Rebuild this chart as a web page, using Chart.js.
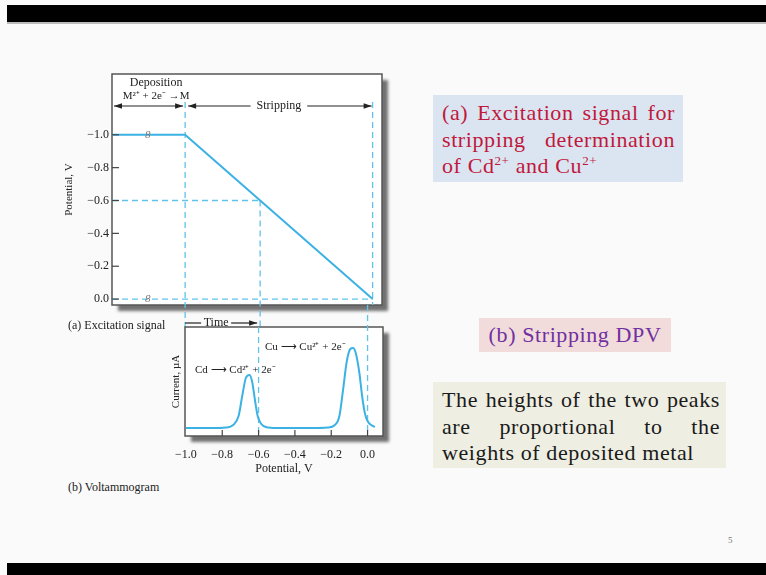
<!DOCTYPE html>
<html>
<head>
<meta charset="utf-8">
<script src="https://cdn.jsdelivr.net/npm/chart.js@4.4.1/dist/chart.umd.min.js"></script>
<style>
html, body { margin: 0; padding: 0; }
body { width: 766px; height: 575px; background: #fafafa; position: relative; overflow: hidden;
       font-family: "Liberation Serif", "Times New Roman", serif; }
.bar { position: absolute; left: 7px; right: 0; background: #000; }
canvas { position: absolute; }
.cap { position: absolute; font-size: 12px; line-height: 14px; color: #222; white-space: nowrap; }
.box { position: absolute; font-size: 22px; letter-spacing: 0.6px; line-height: 26.5px; box-sizing: border-box; }
.box div { white-space: nowrap; }
.just { text-align: justify; text-align-last: justify; }
sup { font-size: 13px; line-height: 0; vertical-align: 8px; }
</style>
</head>
<body>
<div class="bar" style="top:5px;height:17px;"></div>
<div style="position:absolute;left:7px;right:0;top:22px;height:2px;background:#bbb;"></div>
<div class="bar" style="top:563px;height:12px;"></div>

<canvas id="excitation" width="340" height="275" style="left:60px;top:60px;"></canvas>
<canvas id="voltammogram" width="240" height="178" style="left:160px;top:305px;"></canvas>

<div class="cap" style="left:68px;top:318px;">(a) Excitation signal</div>
<div class="cap" style="left:68px;top:480px;">(b) Voltammogram</div>

<div class="box" style="left:433px;top:95px;width:250px;height:87px;padding:5px 8px 0 9px;background:#dbe5f1;color:#c0183c;">
  <div class="just">(a) Excitation signal for</div>
  <div class="just">stripping determination</div>
  <div>of Cd<sup>2+</sup> and Cu<sup>2+</sup></div>
</div>
<div class="box" style="left:479px;top:318px;width:192px;height:34px;line-height:34px;text-align:center;background:#f2dcdb;color:#7030a0;">(b) Stripping DPV</div>
<div class="box" style="left:433px;top:382px;width:293px;height:86px;padding:5px 6px 0 9px;background:#eeeee2;color:#1a1a1a;">
  <div class="just">The heights of the two peaks</div>
  <div class="just">are proportional to the</div>
  <div>weights of deposited metal</div>
</div>
<div class="cap" style="left:728px;top:533px;font-size:9px;color:#777;">5</div>

<script>
// (a) excitation signal: potential against time
const rampTime = [0, 3.9, 13.9];
const rampPotential = [-1.0, -1.0, 0.0];
const potentialTicks = [-1.0, -0.8, -0.6, -0.4, -0.2, 0.0];
const guidePotential = -0.6;
const breakTime = 1.9;

// (b) voltammogram: current against potential
const sweepPotential = [-1.0, -0.85, -0.78, -0.74, -0.71, -0.69, -0.67, -0.65, -0.635, -0.62, -0.605, -0.585, -0.56, -0.5,
                        -0.3, -0.22, -0.18, -0.155, -0.135, -0.115, -0.095, -0.08, -0.065, -0.045, -0.03, -0.015, 0.0, 0.02, 0.04];
const current = [0, 0, 0.5, 3, 12, 32, 50, 53, 46, 28, 12, 4, 1, 0,
                 0, 0.5, 3, 12, 38, 66, 79, 80, 75, 55, 32, 15, 7, 3, 1];
const sweepTicks = [-1.0, -0.8, -0.6, -0.4, -0.2, 0.0];

const blue = '#3cb2e4';
const dashBlue = '#62c2ea';
const ink = '#222';
const serif = '"Liberation Serif", "Times New Roman", serif';

function fmt(v) {
    return (v < -0.001 ? '\u2212' : '') + Math.abs(v).toFixed(1);
}

function frame(chart) {
    const { ctx, chartArea: a } = chart;
    ctx.save();
    ctx.shadowColor = 'rgba(0,0,0,0.55)';
    ctx.shadowBlur = 3;
    ctx.shadowOffsetX = 6;
    ctx.shadowOffsetY = 6;
    ctx.fillStyle = '#fff';
    ctx.fillRect(a.left, a.top, a.width, a.height);
    ctx.restore();
    ctx.save();
    ctx.strokeStyle = '#555';
    ctx.lineWidth = 1.5;
    ctx.strokeRect(a.left, a.top, a.width, a.height);
    ctx.restore();
}

function dashed(ctx, x1, y1, x2, y2) {
    ctx.save();
    ctx.strokeStyle = dashBlue;
    ctx.lineWidth = 1.3;
    ctx.setLineDash([6, 4]);
    ctx.beginPath();
    ctx.moveTo(x1, y1);
    ctx.lineTo(x2, y2);
    ctx.stroke();
    ctx.restore();
}

function line(ctx, x1, y1, x2, y2) {
    ctx.beginPath();
    ctx.moveTo(x1, y1);
    ctx.lineTo(x2, y2);
    ctx.stroke();
}

// arrow head with its tip at x, pointing right (dir 1) or left (dir -1)
function head(ctx, x, y, dir) {
    ctx.beginPath();
    ctx.moveTo(x, y);
    ctx.lineTo(x - dir * 8, y - 2.8);
    ctx.lineTo(x - dir * 8, y + 2.8);
    ctx.closePath();
    ctx.fill();
}

const excitationDecor = {
    id: 'excitationDecor',
    beforeDraw(chart) { frame(chart); },
    beforeDatasetsDraw(chart) {
        const { ctx, chartArea: a, scales: { x, y } } = chart;
        const xs = x.getPixelForValue(rampTime[1]);
        const xe = x.getPixelForValue(rampTime[2]);
        const top = a.top + 28;
        dashed(ctx, xs, top, xs, a.bottom + 22);
        dashed(ctx, xe, top, xe, a.bottom);
        const tg = rampTime[1] + (rampTime[2] - rampTime[1]) *
            (guidePotential - rampPotential[1]) / (rampPotential[2] - rampPotential[1]);
        const xg = x.getPixelForValue(tg), yg = y.getPixelForValue(guidePotential);
        dashed(ctx, a.left, yg, xg, yg);
        dashed(ctx, xg, yg, xg, chart.height);
        const y0 = y.getPixelForValue(0);
        dashed(ctx, a.left, y0, xe, y0);
    },
    afterDraw(chart) {
        const { ctx, chartArea: a, scales: { x, y } } = chart;
        ctx.save();
        ctx.strokeStyle = '#444';
        ctx.lineWidth = 1.2;
        potentialTicks.forEach(v => {
            const py = y.getPixelForValue(v);
            line(ctx, a.left, py, a.left + 7, py);
        });
        // axis break marks
        ctx.font = 'italic 11px ' + serif;
        ctx.fillStyle = '#777';
        ctx.textAlign = 'center';
        ctx.textBaseline = 'middle';
        const xb = x.getPixelForValue(breakTime);
        ctx.fillText('8', xb, y.getPixelForValue(rampPotential[0]));
        ctx.fillText('8', xb, y.getPixelForValue(0));

        const xs = x.getPixelForValue(rampTime[1]);
        const xe = x.getPixelForValue(rampTime[2]);
        ctx.fillStyle = ink;
        ctx.strokeStyle = ink;
        ctx.font = '12px ' + serif;
        const mid = xs - 29;
        ctx.fillText('Deposition', mid, a.top + 9);
        ctx.font = '11px ' + serif;
        ctx.fillText('M\u00b2\u207a + 2e\u207b \u2192M', mid, a.top + 22);
        ctx.font = '12px ' + serif;
        const ya = a.top + 32;
        line(ctx, a.left + 2, ya, xs - 2, ya);
        head(ctx, a.left + 2, ya, -1);
        head(ctx, xs - 2, ya, 1);
        const ms = (xs + xe) / 2;
        ctx.fillText('Stripping', ms, ya);
        const half = ctx.measureText('Stripping').width / 2 + 6;
        line(ctx, xs + 3, ya, ms - half, ya);
        line(ctx, ms + half, ya, xe - 1, ya);
        head(ctx, xs + 3, ya, -1);
        head(ctx, xe - 1, ya, 1);
        // time arrow
        const yt = a.bottom + 18;
        ctx.fillText('Time', xs + 31, yt);
        line(ctx, xs, yt, xs + 16, yt);
        line(ctx, xs + 46, yt, xs + 72, yt);
        head(ctx, xs + 72, yt, 1);
        ctx.restore();
    }
};

const voltammogramDecor = {
    id: 'voltammogramDecor',
    beforeDraw(chart) { frame(chart); },
    beforeDatasetsDraw(chart) {
        const { ctx, chartArea: a, scales: { x } } = chart;
        const xg = x.getPixelForValue(guidePotential);
        const x0 = x.getPixelForValue(0);
        dashed(ctx, xg, a.top, xg, a.bottom - 3);
        dashed(ctx, x0, 0, x0, a.bottom - 3);
    },
    afterDraw(chart) {
        const { ctx, chartArea: a, scales: { x } } = chart;
        ctx.save();
        ctx.strokeStyle = '#444';
        ctx.lineWidth = 1.2;
        sweepTicks.forEach(v => {
            const px = x.getPixelForValue(v);
            if (px > a.left + 2) line(ctx, px, a.bottom, px, a.bottom - 6);
        });
        ctx.fillStyle = ink;
        ctx.font = '11px ' + serif;
        ctx.textBaseline = 'middle';
        ctx.fillText('Cu \u27f6 Cu\u00b2\u207a + 2e\u207b', a.left + 80, a.top + 20);
        ctx.fillText('Cd \u27f6 Cd\u00b2\u207a + 2e\u207b', a.left + 10, a.top + 43);
        ctx.restore();
    }
};

new Chart(document.getElementById('excitation'), {
    type: 'line',
    data: {
        datasets: [{
            data: rampTime.map((t, i) => ({ x: t, y: rampPotential[i] })),
            borderColor: blue,
            borderWidth: 2,
            pointRadius: 0,
            tension: 0
        }]
    },
    options: {
        responsive: false,
        animation: false,
        layout: { padding: { top: 14, right: 18, bottom: 30, left: 0 } },
        plugins: { legend: { display: false }, tooltip: { enabled: false } },
        scales: {
            x: { type: 'linear', display: false, min: 0, max: 14.4 },
            y: {
                type: 'linear', reverse: true, min: -1.37, max: 0.036,
                afterFit: s => { s.width = 52; },
                afterBuildTicks: s => { s.ticks = potentialTicks.map(v => ({ value: v })); },
                grid: { display: false, drawTicks: false },
                border: { display: false },
                ticks: { color: ink, padding: 3, font: { family: serif, size: 12 }, callback: v => fmt(v) },
                title: { display: true, text: 'Potential, V', color: ink, font: { family: serif, size: 11 }, padding: { top: 3 } }
            }
        }
    },
    plugins: [excitationDecor]
});

new Chart(document.getElementById('voltammogram'), {
    type: 'line',
    data: {
        datasets: [{
            data: sweepPotential.map((p, i) => ({ x: p, y: current[i] })),
            borderColor: blue,
            borderWidth: 2,
            pointRadius: 0,
            cubicInterpolationMode: 'monotone'
        }]
    },
    options: {
        responsive: false,
        animation: false,
        layout: { padding: { top: 22, right: 17, bottom: 0, left: 0 } },
        plugins: { legend: { display: false }, tooltip: { enabled: false } },
        scales: {
            x: {
                type: 'linear', min: -1.005, max: 0.085,
                afterFit: s => { s.height = 47; },
                afterBuildTicks: s => { s.ticks = sweepTicks.map(v => ({ value: v })); },
                grid: { display: false, drawTicks: false },
                border: { display: false },
                ticks: { color: ink, padding: 12, maxRotation: 0, font: { family: serif, size: 12 }, callback: v => fmt(v) },
                title: { display: true, text: 'Potential, V', color: ink, font: { family: serif, size: 12 }, padding: { bottom: 7 } }
            },
            y: {
                type: 'linear', min: -8, max: 101,
                afterFit: s => { s.width = 25; },
                grid: { display: false, drawTicks: false },
                border: { display: false },
                ticks: { display: false },
                title: { display: true, text: 'Current, \u00b5A', color: ink, font: { family: serif, size: 11 }, padding: { top: 10 } }
            }
        }
    },
    plugins: [voltammogramDecor]
});
</script>
</body>
</html>
